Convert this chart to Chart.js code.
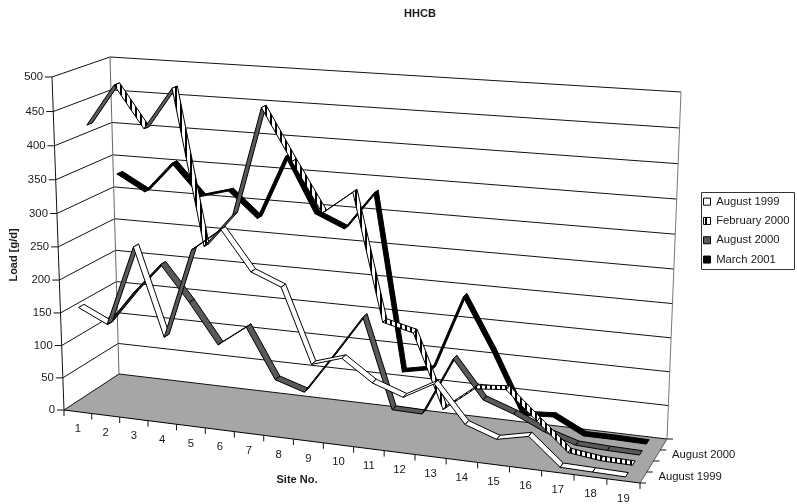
<!DOCTYPE html>
<html>
<head>
<meta charset="utf-8">
<title>HHCB</title>
<script src="https://cdn.jsdelivr.net/npm/chart.js@4"></script>
<style>
  body { margin: 0; background: #fff; }
  canvas { display: block; }
</style>
</head>
<body>
<canvas id="myChart" width="797" height="504"></canvas>
<script>
var sites = ["1","2","3","4","5","6","7","8","9","10","11","12","13","14","15","16","17","18","19"];
var depthLabels = ["August 1999", "", "August 2000", ""];
var aug1999 = [157,136,257,126,261,295,237,219,110,124,93,77,102,48,32,42,3,2,1];
var feb2000 = [421,483,422,484,255,306,465,391,320,354,169,158,50,86,90,49,9,3,2];
var aug2000 = [105,160,208,154,93,125,49,35,96,159,24,23,111,55,39,18,4,2,1];
var mar2001 = [329,305,352,305,317,279,376,294,275,332,67,76,190,111,22,25,2,2,1];

var font = "'Liberation Sans', Arial, sans-serif";
var textColor = "#1a1a1a";

// corners of the 3d box on the page: f = front, b = back, 0 = left, 1 = right
var box = {
    f0: [[64, 410], [52, 77]],
    b0: [[119, 374], [110, 57]],
    f1: [[640, 483], [655, 118]],
    b1: [[667, 439], [681, 92]]
};
var ribbonDepth = 0.05;

function stripes() {
    var c = document.createElement("canvas");
    c.width = 5; c.height = 5;
    var g = c.getContext("2d");
    g.fillStyle = "#fff"; g.fillRect(0, 0, 5, 5);
    g.fillStyle = "#000"; g.fillRect(0, 0, 2, 5);
    return g.createPattern(c, "repeat");
}

function warp(t, b) { return b * t / (1 + (b - 1) * t); }
function mix(a, b, t) { return [a[0] + (b[0] - a[0]) * t, a[1] + (b[1] - a[1]) * t]; }

// u along sites, v up the value axis, z into the page, all 0..1
function project(u, v, z) {
    u = warp(u, 0.91);
    v = warp(v, 0.96);
    var f0 = mix(box.f0[0], box.f0[1], v), b0 = mix(box.b0[0], box.b0[1], v);
    var f1 = mix(box.f1[0], box.f1[1], v), b1 = mix(box.b1[0], box.b1[1], v);
    return mix(mix(f0, b0, z), mix(f1, b1, z), u);
}

function poly(ctx, pts, fill, stroke) {
    ctx.beginPath();
    pts.forEach(function (p, i) { if (i) ctx.lineTo(p[0], p[1]); else ctx.moveTo(p[0], p[1]); });
    ctx.closePath();
    if (fill) { ctx.fillStyle = fill; ctx.fill(); }
    if (stroke) { ctx.strokeStyle = stroke; ctx.lineWidth = 1; ctx.stroke(); }
}

function seg(ctx, a, b, color) {
    ctx.beginPath();
    ctx.moveTo(a[0], a[1]);
    ctx.lineTo(b[0], b[1]);
    ctx.strokeStyle = color;
    ctx.lineWidth = 1;
    ctx.stroke();
}

var box3d = {
    id: "box3d",
    afterLayout: function (chart) {
        // move the legend next to the box, keep the height it asked for
        var l = chart.legend, w = l.width, h = l.height;
        l.left = 695.5; l.right = l.left + w; l.top = 188; l.bottom = l.top + h;
    },
    beforeDatasetsDraw: function (chart) {
        var ctx = chart.ctx, area = chart.chartArea;
        var xs = chart.scales.x, ys = chart.scales.y;
        var band = area.width / sites.length;
        ctx.save();

        // floor
        poly(ctx, [project(0, 0, 0), project(1, 0, 0), project(1, 0, 1), project(0, 0, 1)], "#a6a6a6", null);

        // gridlines and value axis
        ys.ticks.forEach(function (t) {
            var v = (area.bottom - ys.getPixelForValue(t.value)) / area.height;
            var a = project(0, v, 0), b = project(0, v, 1), c = project(1, v, 1);
            seg(ctx, a, b, "#111");
            seg(ctx, b, c, "#111");
            seg(ctx, [a[0] - 7, a[1]], a, "#111");
            ctx.fillStyle = textColor;
            ctx.font = "11.3px " + font;
            ctx.textAlign = "right";
            ctx.textBaseline = "middle";
            ctx.fillText(t.label, a[0] - 9, a[1]);
        });
        seg(ctx, project(0, 0, 0), project(0, 1, 0), "#111");
        seg(ctx, project(0, 0, 1), project(0, 1, 1), "#666");
        seg(ctx, project(1, 0, 1), project(1, 1, 1), "#777");
        seg(ctx, project(0, 0, 0), project(1, 0, 0), "#000");
        seg(ctx, project(1, 0, 0), project(1, 0, 1), "#555");

        // site ticks and labels
        ctx.textAlign = "center";
        for (var i = 0; i <= sites.length; i++) {
            var p = project((xs.getPixelForValue(0) - band / 2 + band * i - area.left) / area.width, 0, 0);
            seg(ctx, p, [p[0], p[1] + 6], "#111");
        }
        sites.forEach(function (s, i) {
            var q = project((xs.getPixelForValue(i) - area.left) / area.width, 0, 0);
            ctx.fillText(s, q[0], q[1] + 17.5);
        });

        // depth ticks and labels
        depthLabels.forEach(function (s, i) {
            var p = project(1, 0, i / depthLabels.length);
            seg(ctx, p, [p[0] + 6, p[1]], "#111");
            var m = project(1, 0, (i + 0.5) / depthLabels.length);
            ctx.textAlign = "left";
            ctx.fillText(s, m[0] + 15, m[1] - 0.5);
        });
        var e = project(1, 0, 1);
        seg(ctx, e, [e[0] + 6, e[1]], "#111");

        // axis titles
        ctx.font = "bold 11px " + font;
        ctx.textAlign = "center";
        ctx.fillText("Site No.", 297, 479.5);
        ctx.translate(14, 255);
        ctx.rotate(-Math.PI / 2);
        ctx.fillText("Load [g/d]", 0, 0);
        ctx.restore();
    },
    afterDatasetsDraw: function (chart) {
        var ctx = chart.ctx, area = chart.chartArea;
        var n = chart.data.datasets.length;
        ctx.save();
        ctx.lineJoin = "round";
        // back series first so the front ones lie on top
        for (var d = n - 1; d >= 0; d--) {
            var ds = chart.data.datasets[d];
            var pts = chart.getDatasetMeta(d).data;
            var z = (d + 0.5) / n;
            for (var i = 0; i < pts.length - 1; i++) {
                var u0 = (pts[i].x - area.left) / area.width, v0 = (area.bottom - pts[i].y) / area.height;
                var u1 = (pts[i + 1].x - area.left) / area.width, v1 = (area.bottom - pts[i + 1].y) / area.height;
                var a = project(u0, v0, z - ribbonDepth), b = project(u1, v1, z - ribbonDepth);
                var c = project(u1, v1, z + ribbonDepth), e = project(u0, v0, z + ribbonDepth);
                // rising segments show the darker underside of the ribbon
                var cross = (b[0] - a[0]) * (e[1] - a[1]) - (b[1] - a[1]) * (e[0] - a[0]);
                poly(ctx, [a, b, c, e], cross > 0 ? ds.undersideColor : ds.backgroundColor, "#000");
            }
        }
        // frame round the legend
        ctx.strokeStyle = "#333";
        ctx.lineWidth = 1;
        ctx.strokeRect(701.5, 192.5, 93, 77);
        ctx.restore();
    }
};

function renderChart() {
    var ctx = document.getElementById("myChart").getContext("2d");
    return new Chart(ctx, {
        type: "line",
        data: {
            labels: sites,
            datasets: [
                { label: "August 1999", data: aug1999, backgroundColor: "#ffffff", undersideColor: "#5a5a5a" },
                { label: "February 2000", data: feb2000, backgroundColor: stripes(), undersideColor: "#5a5a5a" },
                { label: "August 2000", data: aug2000, backgroundColor: "#595959", undersideColor: "#1a1a1a" },
                { label: "March 2001", data: mar2001, backgroundColor: "#000000", undersideColor: "#000000" }
            ]
        },
        options: {
            responsive: false,
            animation: false,
            showLine: false,
            layout: { padding: { left: 43 } },
            elements: { point: { radius: 0 }, line: { borderColor: "#000", borderWidth: 1 } },
            scales: {
                x: { display: false, offset: true },
                y: { display: false, min: 0, max: 500, ticks: { stepSize: 50 } }
            },
            plugins: {
                title: {
                    display: true,
                    text: "HHCB",
                    color: textColor,
                    padding: { top: 7, bottom: 0 },
                    font: { family: font, size: 11, weight: "bold" }
                },
                legend: {
                    display: true,
                    position: "right",
                    align: "start",
                    labels: {
                        boxWidth: 7,
                        boxHeight: 7,
                        padding: 8,
                        color: textColor,
                        font: { family: font, size: 11.3 }
                    }
                },
                tooltip: { enabled: false }
            }
        },
        plugins: [box3d]
    });
}

renderChart();
</script>
</body>
</html>
